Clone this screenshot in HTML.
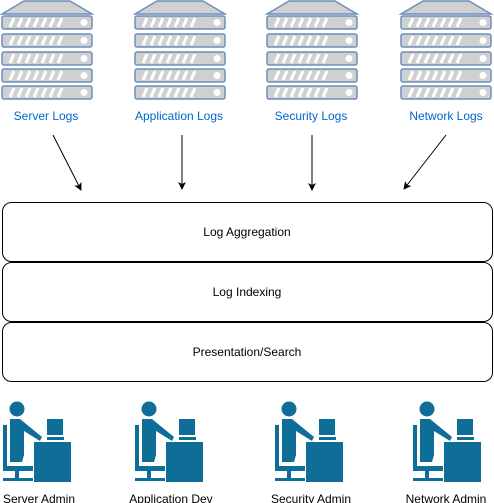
<!DOCTYPE html>
<html><head><style>
html,body{margin:0;padding:0;background:#fff;width:494px;height:503px;overflow:hidden}
svg text{font-family:"Liberation Sans",sans-serif;font-size:12px}
</style></head><body>
<svg width="494" height="503" viewBox="0 0 494 503" xmlns="http://www.w3.org/2000/svg">
<defs>
<g id="rack">
<rect x="0" y="0" width="90" height="13" rx="2" fill="#d0d0d0" stroke="#6c8ebf" stroke-width="1.5"/>
<g stroke="#fff" stroke-width="3">
<line x1="8" y1="11" x2="12" y2="2"/><line x1="16" y1="11" x2="20" y2="2"/><line x1="24" y1="11" x2="28" y2="2"/>
<line x1="32" y1="11" x2="36" y2="2"/><line x1="40" y1="11" x2="44" y2="2"/><line x1="48" y1="11" x2="52" y2="2"/><line x1="56" y1="11" x2="60" y2="2"/>
</g>
<circle cx="82" cy="6.5" r="3.5" fill="#fff"/>
</g>
<g id="server">
<path d="M0 14 L22 1 L68 1 L90 14 Z" fill="#d0d0d0" stroke="#6c8ebf" stroke-width="1.5"/>
<use href="#rack" y="16"/><use href="#rack" y="34"/><use href="#rack" y="52"/><use href="#rack" y="69"/><use href="#rack" y="86"/>
</g>
<g id="user" fill="#0e6e98">
<circle cx="17" cy="409" r="7.5"/>
<path d="M10 419 H20 L42 437 L40 441 L24 431 V455 L22 462 H10 Z"/>
<rect x="3" y="425" width="4" height="45"/>
<rect x="3" y="466" width="30" height="5"/>
<rect x="15" y="468" width="4" height="12"/>
<rect x="3" y="478" width="30" height="3"/>
<rect x="34" y="442" width="37" height="40"/>
<rect x="47" y="419" width="16" height="16"/>
<rect x="47" y="437" width="17" height="3"/>
</g>
<marker id="ah" markerWidth="8" markerHeight="8" refX="7" refY="4" orient="auto" markerUnits="userSpaceOnUse"><path d="M0 0 L8 4 L0 8 L2 4 Z" fill="#000"/></marker>
</defs>
<use href="#server" x="2" y="0"/>
<use href="#server" x="135" y="0"/>
<use href="#server" x="267" y="0"/>
<use href="#server" x="401" y="0"/>
<g fill="#0066cc" text-anchor="middle">
<text x="46" y="120">Server Logs</text>
<text x="179" y="120">Application Logs</text>
<text x="311" y="120">Security Logs</text>
<text x="446" y="120">Network Logs</text>
</g>
<g stroke="#000" stroke-width="1" marker-end="url(#ah)">
<line x1="53" y1="135" x2="81" y2="190"/>
<line x1="182" y1="135" x2="182" y2="189"/>
<line x1="312" y1="135" x2="312" y2="190"/>
<line x1="446" y1="135" x2="404" y2="189"/>
</g>
<g fill="#fff" stroke="#000">
<rect x="2.5" y="202.5" width="490" height="59" rx="9"/>
<rect x="2.5" y="262.5" width="490" height="59" rx="9"/>
<rect x="2.5" y="322.5" width="490" height="59" rx="9"/>
</g>
<g text-anchor="middle" fill="#000">
<text x="247" y="236">Log Aggregation</text>
<text x="247" y="296">Log Indexing</text>
<text x="247" y="356">Presentation/Search</text>
</g>
<use href="#user" x="0" y="0"/>
<use href="#user" x="132" y="0"/>
<use href="#user" x="272" y="0"/>
<use href="#user" x="410" y="0"/>
<g text-anchor="middle" fill="#000">
<text x="39" y="503">Server Admin</text>
<text x="171" y="503">Application Dev</text>
<text x="311" y="503">Security Admin</text>
<text x="446" y="503">Network Admin</text>
</g>
</svg>
</body></html>
